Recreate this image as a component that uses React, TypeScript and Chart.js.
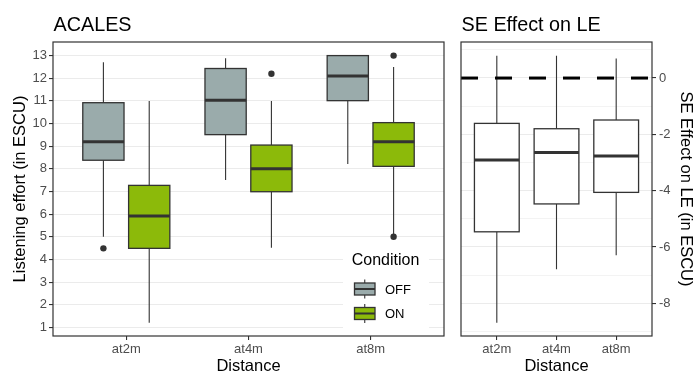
import React, { useEffect, useRef } from 'react';
import { Chart, registerables } from 'chart.js';
Chart.register(...registerables);

const FONT = "'Liberation Sans', Arial, Helvetica, sans-serif";

// ---------- data ----------
const categories = ['at2m', 'at4m', 'at8m'];
const conditions = ['OFF', 'ON'];
const conditionColors = ['#9aabab', '#8cba0a'];

const offLow = [5.0, 7.51, 8.21];
const offQ1 = [8.38, 9.51, 11.01];
const offMedian = [9.2, 11.03, 12.1];
const offQ3 = [10.92, 12.43, 13.0];
const offHigh = [12.71, 12.88, 13.0];
const offOutliers = [[4.49], [], []];

const onLow = [1.2, 4.52, 5.1];
const onQ1 = [4.49, 6.99, 8.11];
const onMedian = [5.92, 8.0, 9.2];
const onQ3 = [7.27, 9.05, 10.04];
const onHigh = [11.0, 11.0, 12.5];
const onOutliers = [[], [12.2], [13.0, 5.0]];

const seLow = [-8.69, -6.79, -6.29];
const seQ1 = [-5.46, -4.47, -4.06];
const seMedian = [-2.91, -2.64, -2.77];
const seQ3 = [-1.61, -1.8, -1.49];
const seHigh = [0.79, 0.79, 0.69];
const seReference = 0;

const leftTickValues = [1, 2, 3, 4, 5, 6, 7, 8, 9, 10, 11, 12, 13];
const rightTickValues = [-8, -6, -4, -2, 0];
const rightGridValues = [-9, -8, -7, -6, -5, -4, -3, -2, -1, 0, 1];

const leftTitle = 'ACALES';
const rightTitle = 'SE Effect on LE';
const leftYTitle = 'Listening effort (in ESCU)';
const rightYTitle = 'SE Effect on LE (in ESCU)';
const xTitle = 'Distance';
const legendTitle = 'Condition';

// ---------- helpers ----------
const DODGE = 0.1875;
const HALF_DODGED = 0.16875;
const HALF_SINGLE = 0.375;
const LINE = '#333333';

type Stats = { low: number; q1: number; med: number; q3: number; high: number };

function drawBox(ctx: CanvasRenderingContext2D, chart: any, center: number, half: number, s: Stats, fill: string) {
  const xs = chart.scales.x;
  const ys = chart.scales.y;
  const x0 = xs.getPixelForValue(center - half);
  const x1 = xs.getPixelForValue(center + half);
  const xc = xs.getPixelForValue(center);
  const yLow = ys.getPixelForValue(s.low);
  const yQ1 = ys.getPixelForValue(s.q1);
  const yMed = ys.getPixelForValue(s.med);
  const yQ3 = ys.getPixelForValue(s.q3);
  const yHigh = ys.getPixelForValue(s.high);
  ctx.save();
  ctx.strokeStyle = LINE;
  ctx.lineWidth = 1.1;
  ctx.beginPath();
  ctx.moveTo(xc, yHigh);
  ctx.lineTo(xc, yQ3);
  ctx.moveTo(xc, yQ1);
  ctx.lineTo(xc, yLow);
  ctx.stroke();
  ctx.fillStyle = fill;
  ctx.fillRect(x0, yQ3, x1 - x0, yQ1 - yQ3);
  ctx.lineWidth = 1.3;
  ctx.strokeRect(x0, yQ3, x1 - x0, yQ1 - yQ3);
  ctx.lineWidth = 3;
  ctx.beginPath();
  ctx.moveTo(x0, yMed);
  ctx.lineTo(x1, yMed);
  ctx.stroke();
  ctx.restore();
}

function drawBorder(ctx: CanvasRenderingContext2D, chart: any) {
  const a = chart.chartArea;
  ctx.save();
  ctx.strokeStyle = LINE;
  ctx.lineWidth = 1.2;
  ctx.strokeRect(a.left, a.top, a.right - a.left, a.bottom - a.top);
  ctx.restore();
}

function drawTitles(ctx: CanvasRenderingContext2D, chart: any, title: string, yTitle: string, yTitleX: number, rotateCW: boolean) {
  const a = chart.chartArea;
  ctx.save();
  ctx.fillStyle = '#000';
  ctx.font = `19.8px ${FONT}`;
  ctx.textAlign = 'left';
  ctx.textBaseline = 'alphabetic';
  ctx.fillText(title, a.left + 0.5, 30.5);
  ctx.font = `16.5px ${FONT}`;
  ctx.textAlign = 'center';
  ctx.fillText(xTitle, (a.left + a.right) / 2, 371);
  ctx.translate(yTitleX, (a.top + a.bottom) / 2);
  ctx.rotate(rotateCW ? Math.PI / 2 : -Math.PI / 2);
  ctx.fillText(yTitle, 0, 0);
  ctx.restore();
}

const tickFont = { family: FONT, size: 13 };

// ---------- left chart ----------
function makeLeft(canvas: HTMLCanvasElement) {
  const outlierPoints = (lists: number[][], off: number) =>
    lists.flatMap((vals, i) => vals.map((v) => ({ x: i + 1 + off, y: v })));

  const boxPlugin = {
    id: 'leftBoxes',
    beforeDatasetsDraw(chart: any) {
      const ctx = chart.ctx;
      categories.forEach((_, i) => {
        drawBox(ctx, chart, i + 1 - DODGE, HALF_DODGED,
          { low: offLow[i], q1: offQ1[i], med: offMedian[i], q3: offQ3[i], high: offHigh[i] }, conditionColors[0]);
        drawBox(ctx, chart, i + 1 + DODGE, HALF_DODGED,
          { low: onLow[i], q1: onQ1[i], med: onMedian[i], q3: onQ3[i], high: onHigh[i] }, conditionColors[1]);
      });
    },
    afterDatasetsDraw(chart: any) {
      const ctx = chart.ctx;
      const a = chart.chartArea;
      // legend
      const lx = a.right - 101;
      const ly = a.top + 202;
      ctx.save();
      ctx.fillStyle = '#fff';
      ctx.fillRect(lx, ly, 86, 87);
      ctx.fillStyle = '#000';
      ctx.font = `16px ${FONT}`;
      ctx.textBaseline = 'alphabetic';
      ctx.textAlign = 'left';
      ctx.fillText(legendTitle, lx + 8.7, ly + 21);
      conditions.forEach((c, i) => {
        const cy = ly + 45 + i * 24.5;
        const bx0 = lx + 11.5;
        const bw = 20.5;
        const xc = bx0 + bw / 2;
        ctx.strokeStyle = LINE;
        ctx.lineWidth = 1.1;
        ctx.beginPath();
        ctx.moveTo(xc, cy - 9.5);
        ctx.lineTo(xc, cy + 9.5);
        ctx.stroke();
        ctx.fillStyle = conditionColors[i];
        ctx.fillRect(bx0, cy - 6, bw, 12);
        ctx.lineWidth = 1.3;
        ctx.strokeRect(bx0, cy - 6, bw, 12);
        ctx.lineWidth = 2;
        ctx.beginPath();
        ctx.moveTo(bx0, cy);
        ctx.lineTo(bx0 + bw, cy);
        ctx.stroke();
        ctx.fillStyle = '#000';
        ctx.font = `13px ${FONT}`;
        ctx.fillText(c, lx + 42, cy + 4.7);
      });
      ctx.restore();
      drawBorder(ctx, chart);
    },
    afterDraw(chart: any) {
      drawTitles(chart.ctx, chart, leftTitle, leftYTitle, 25, false);
    },
  };

  return new Chart(canvas, {
    type: 'scatter',
    data: {
      datasets: [
        {
          label: conditions[0] + ' outliers',
          data: outlierPoints(offOutliers, -DODGE),
          pointRadius: 3.2,
          pointBackgroundColor: LINE,
          pointBorderWidth: 0,
        },
        {
          label: conditions[1] + ' outliers',
          data: outlierPoints(onOutliers, DODGE),
          pointRadius: 3.2,
          pointBackgroundColor: LINE,
          pointBorderWidth: 0,
        },
      ],
    },
    options: {
      responsive: false,
      animation: false,
      devicePixelRatio: 1,
      layout: { padding: { left: 0, right: 8, top: 42, bottom: 0 } },
      plugins: { legend: { display: false }, tooltip: { enabled: false } },
      scales: {
        x: {
          type: 'linear',
          min: 0.4,
          max: 3.6,
          afterBuildTicks: (s: any) => { s.ticks = categories.map((_, i) => ({ value: i + 1 })); },
          afterFit: (s: any) => { s.height = 36; },
          ticks: {
            callback: (v: any) => categories[Number(v) - 1] ?? '',
            font: tickFont,
            color: '#4d4d4d',
            padding: 2,
            maxRotation: 0,
            autoSkip: false,
          },
          grid: { drawOnChartArea: false, tickLength: 4, tickColor: LINE, lineWidth: 1.1 },
          border: { display: false },
        },
        y: {
          type: 'linear',
          min: 0.62,
          max: 13.6,
          afterBuildTicks: (s: any) => { s.ticks = leftTickValues.map((v) => ({ value: v })); },
          afterFit: (s: any) => { s.width = 53; },
          ticks: {
            callback: (v: any) => String(v),
            font: tickFont,
            color: '#4d4d4d',
            padding: 2,
            autoSkip: false,
          },
          grid: { color: '#ebebeb', lineWidth: 1.1, tickLength: 4, tickColor: LINE },
          border: { display: false },
        },
      },
    },
    plugins: [boxPlugin],
  } as any);
}

// ---------- right chart ----------
function makeRight(canvas: HTMLCanvasElement) {
  const boxPlugin = {
    id: 'rightBoxes',
    beforeDatasetsDraw(chart: any) {
      const ctx = chart.ctx;
      categories.forEach((_, i) => {
        drawBox(ctx, chart, i + 1, HALF_SINGLE,
          { low: seLow[i], q1: seQ1[i], med: seMedian[i], q3: seQ3[i], high: seHigh[i] }, '#ffffff');
      });
    },
    afterDatasetsDraw(chart: any) {
      const ctx = chart.ctx;
      const a = chart.chartArea;
      const y0 = chart.scales.y.getPixelForValue(seReference);
      ctx.save();
      ctx.strokeStyle = '#000';
      ctx.lineWidth = 3;
      ctx.setLineDash([17, 17]);
      ctx.beginPath();
      ctx.moveTo(a.left, y0);
      ctx.lineTo(a.right, y0);
      ctx.stroke();
      ctx.restore();
      drawBorder(ctx, chart);
    },
    afterDraw(chart: any) {
      drawTitles(chart.ctx, chart, rightTitle, rightYTitle, 229, true);
    },
  };

  return new Chart(canvas, {
    type: 'scatter',
    data: { datasets: [{ label: 'SE', data: [], pointRadius: 0 }] },
    options: {
      responsive: false,
      animation: false,
      devicePixelRatio: 1,
      layout: { padding: { left: 9, right: 0, top: 42, bottom: 0 } },
      plugins: { legend: { display: false }, tooltip: { enabled: false } },
      scales: {
        x: {
          type: 'linear',
          min: 0.4,
          max: 3.6,
          afterBuildTicks: (s: any) => { s.ticks = categories.map((_, i) => ({ value: i + 1 })); },
          afterFit: (s: any) => { s.height = 36; },
          ticks: {
            callback: (v: any) => categories[Number(v) - 1] ?? '',
            font: tickFont,
            color: '#4d4d4d',
            padding: 2,
            maxRotation: 0,
            autoSkip: false,
          },
          grid: { drawOnChartArea: false, tickLength: 4, tickColor: LINE, lineWidth: 1.1 },
          border: { display: false },
        },
        y: {
          type: 'linear',
          position: 'right',
          min: -9.16,
          max: 1.28,
          afterBuildTicks: (s: any) => { s.ticks = rightGridValues.map((v) => ({ value: v })); },
          afterFit: (s: any) => { s.width = 45; },
          ticks: {
            callback: (v: any) => (rightTickValues.includes(Number(v)) ? String(v) : ''),
            font: tickFont,
            color: '#4d4d4d',
            padding: 3,
            autoSkip: false,
          },
          grid: {
            color: '#ebebeb',
            lineWidth: (c: any) => (c.tick && rightTickValues.includes(c.tick.value) ? 1.1 : 0.6),
            tickLength: 4,
            tickColor: (c: any) => (c.tick && rightTickValues.includes(c.tick.value) ? LINE : 'rgba(0,0,0,0)'),
          },
          border: { display: false },
        },
      },
    },
    plugins: [boxPlugin],
  } as any);
}

export default function App() {
  const leftRef = useRef<HTMLCanvasElement>(null);
  const rightRef = useRef<HTMLCanvasElement>(null);
  useEffect(() => {
    const l = makeLeft(leftRef.current!);
    const r = makeRight(rightRef.current!);
    return () => {
      l.destroy();
      r.destroy();
    };
  }, []);
  return (
    <div style={{ position: 'absolute', left: 0, top: 0, width: 697, height: 372, background: '#fff' }}>
      <canvas ref={leftRef} width={452} height={372} style={{ position: 'absolute', left: 0, top: 0 }} />
      <canvas ref={rightRef} width={245} height={372} style={{ position: 'absolute', left: 452, top: 0 }} />
    </div>
  );
}
